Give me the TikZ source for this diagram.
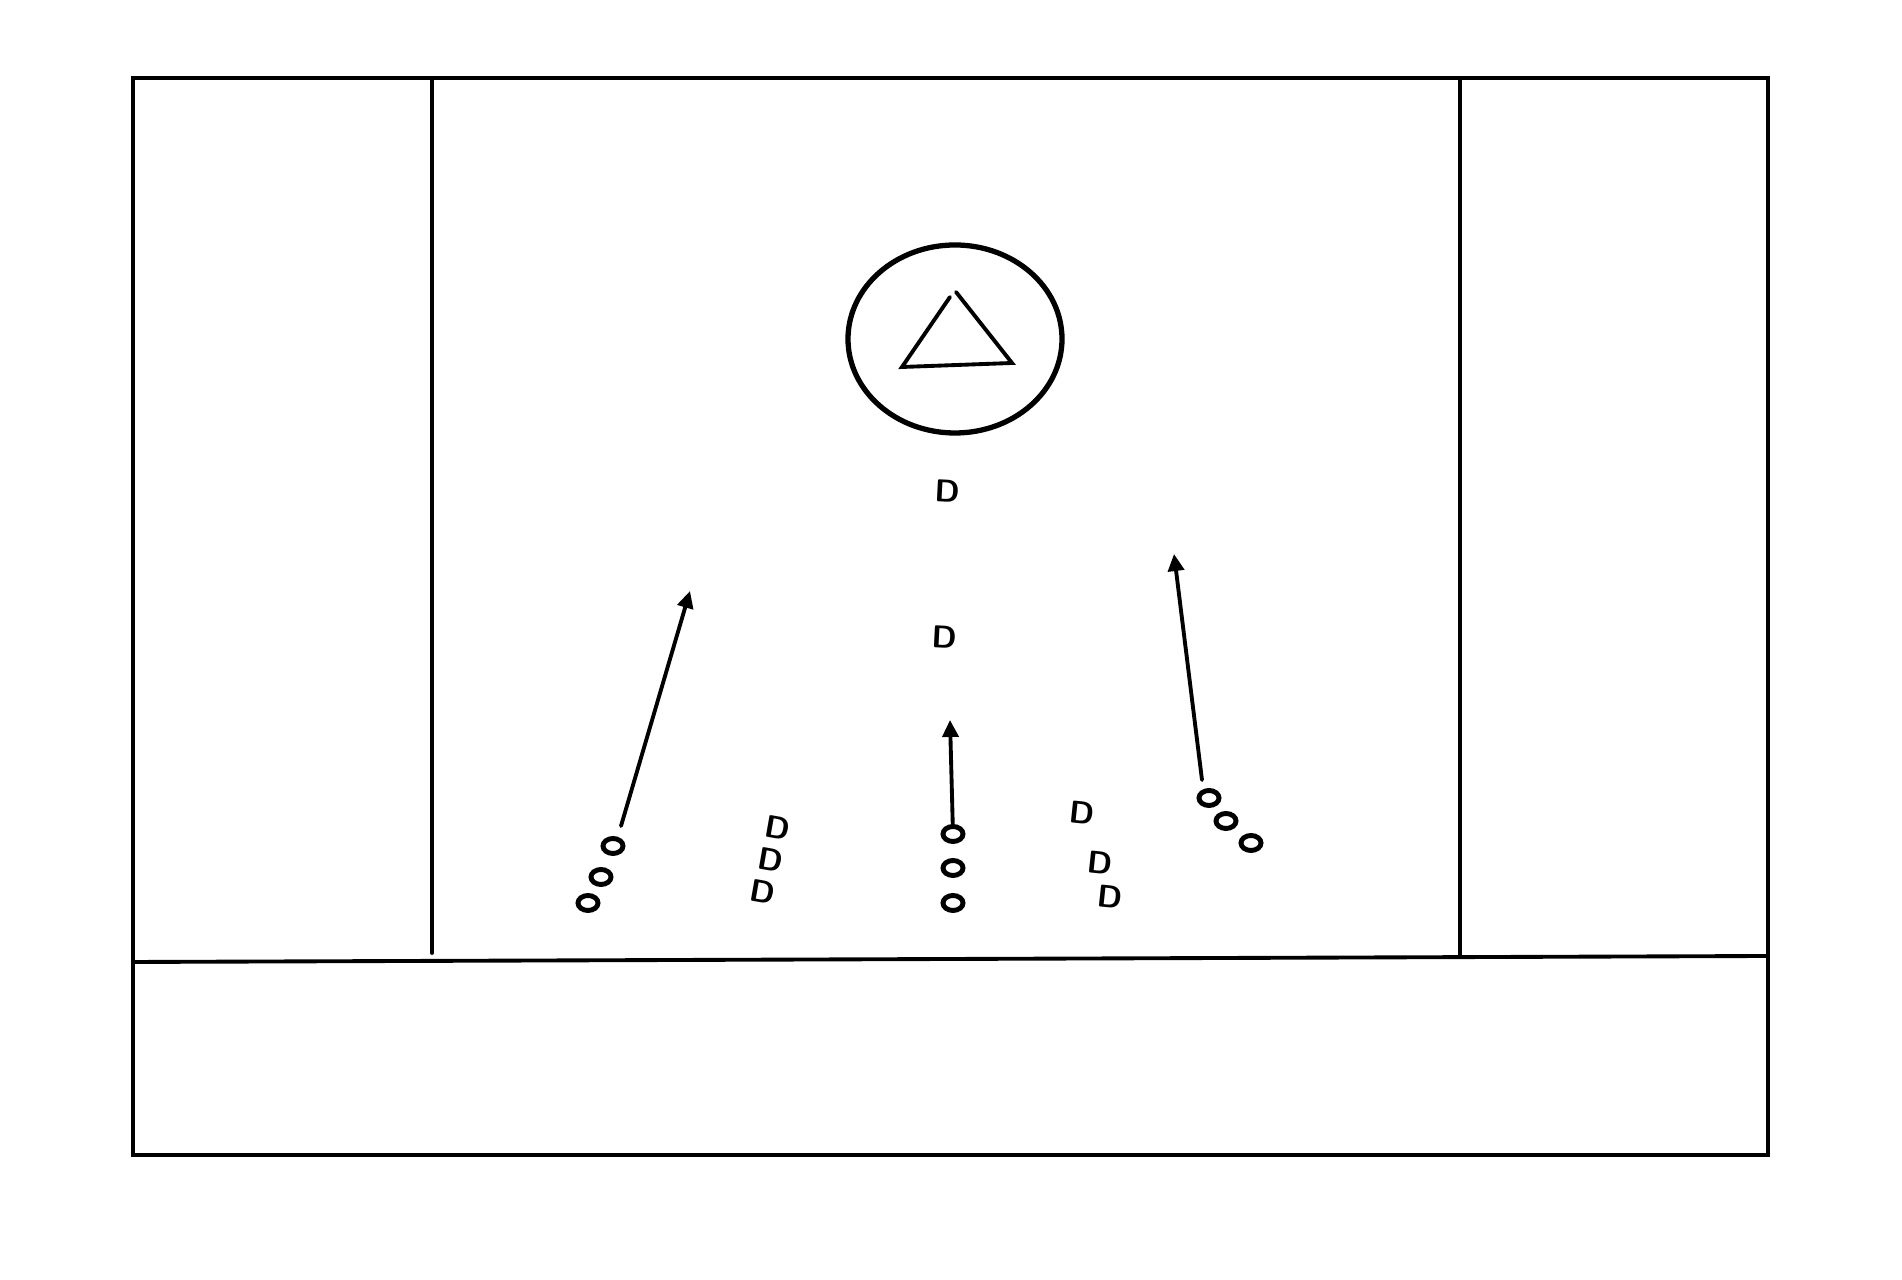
\documentclass[tikz,border=0pt]{standalone}
\usepackage{tikz}
\usetikzlibrary{arrows.meta, shapes.geometric}

\tikzset{
  dee/.style={font=\sffamily\bfseries\fontsize{9}{10}\selectfont, inner sep=0pt},
  ball/.style={ellipse, draw, line width=1.4pt, minimum width=0.2cm, minimum height=0.15cm, inner sep=0pt},
  run/.style={line width=1.1pt, -{Triangle[length=0.17cm, width=0.16cm]}}
}

\begin{document}
\begin{tikzpicture}[x=0.01cm, y=-0.01cm, line width=1.1pt, line cap=round]
  \useasboundingbox (0,0) rectangle (1902,1280);

  % Field outline
  \draw (133,78) rectangle (1768,1155);
  \draw (133,962) -- (1768,956);
  \draw (432,80) -- (432,953);
  \draw (1460,80) -- (1460,955);

  % Circle with triangle
  \draw[line width=1.5pt] (955,339) ellipse (107 and 94);
  \draw (950,297) -- (902,367) -- (1012,363) -- (956,292);

  % Single D's
  \node[dee, rotate=-3] (d1) at (948,491) {D};
  \node[dee, rotate=-3] (d2) at (945,637) {D};

  % D groups
  \node[dee, rotate=-10] (dl1) at (778,828) {D};
  \node[dee, rotate=-10] (dl2) at (771,860) {D};
  \node[dee, rotate=-10] (dl3) at (763,892) {D};
  \node[dee, rotate=-6] (dr1) at (1082,813) {D};
  \node[dee, rotate=-6] (dr2) at (1100,863) {D};
  \node[dee, rotate=-6] (dr3) at (1110,897) {D};

  % Balls
  \node[ball] (lo1) at (613,846) {};
  \node[ball] (lo2) at (601,877) {};
  \node[ball] (lo3) at (588,903) {};
  \node[ball] (co1) at (953,834) {};
  \node[ball] (co2) at (953,868) {};
  \node[ball] (co3) at (953,903) {};
  \node[ball] (ro1) at (1209,798) {};
  \node[ball] (ro2) at (1226,821) {};
  \node[ball] (ro3) at (1251,843) {};

  % Runs
  \coordinate (ltip) at (690,591);
  \coordinate (ctip) at (950,720);
  \coordinate (rtip) at (1174,554);
  \draw[run] ([shift={(8,-20)}]lo1.center) -- (ltip);
  \draw[run] (co1) -- (ctip);
  \draw[run] ([shift={(-7,-18)}]ro1.center) -- (rtip);
\end{tikzpicture}
\end{document}
